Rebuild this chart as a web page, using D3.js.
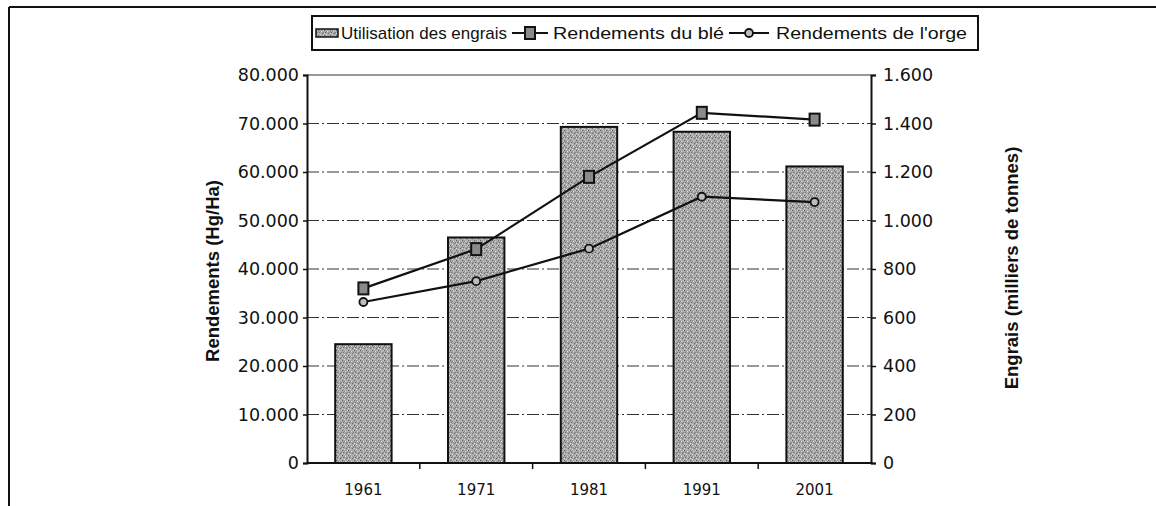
<!DOCTYPE html>
<html><head><meta charset="utf-8">
<script src="https://cdn.jsdelivr.net/npm/d3@7"></script>
<style>body{margin:0;background:#fff}svg{display:block;font-family:"Liberation Sans",Arial,sans-serif}text{fill:#111}</style>
</head><body><svg id="c" width="1156" height="506"></svg>
<script>
const years = ["1961","1971","1981","1991","2001"];
const engrais = [490, 930, 1386, 1366, 1223];
const ble = [36000, 44100, 59000, 72200, 70800];
const orge = [33200, 37500, 44200, 54900, 53800];
const leftTicks = [0,10000,20000,30000,40000,50000,60000,70000,80000];
const rightTicks = [0,200,400,600,800,1000,1200,1400,1600];
const legendLabels = ["Utilisation des engrais","Rendements du blé","Rendements de l'orge"];
const yTitleLeft = "Rendements (Hg/Ha)";
const yTitleRight = "Engrais (milliers de tonnes)";

const svg = d3.select("#c");
const L = 307, R = 871, T = 75, B = 463;
const loc = d3.formatLocale({decimal:",",thousands:".",grouping:[3],currency:["",""]});
const fmt = loc.format(",");
const tickFont = "'DejaVu Sans', Verdana, sans-serif";
const mainFont = "'Liberation Sans', Arial, sans-serif";

// pattern for stippled bars
const defs = svg.append("defs");
const pat = defs.append("pattern").attr("id","stip").attr("patternUnits","userSpaceOnUse").attr("width",6).attr("height",5);
pat.append("rect").attr("width",6).attr("height",5).attr("fill","#a8a8a8");
[[0,0,"#5e5e5e"],[3,1,"#dedede"],[1,2,"#727272"],[4,3,"#6a6a6a"],[2,4,"#d6d6d6"],[5,0,"#cacaca"],[5,2,"#7e7e7e"],[0,3,"#dadada"],[2,1,"#8a8a8a"]].forEach(p=>{
  pat.append("rect").attr("x",p[0]).attr("y",p[1]).attr("width",1).attr("height",1).attr("fill",p[2]);
});

// outer frame
svg.append("line").attr("x1",9).attr("x2",1156).attr("y1",7).attr("y2",7).attr("stroke","#111").attr("stroke-width",2);
svg.append("line").attr("x1",9).attr("x2",9).attr("y1",7).attr("y2",506).attr("stroke","#111").attr("stroke-width",2);

const x = d3.scaleBand().domain(years).range([L,R]).paddingInner(0.5).paddingOuter(0.25);
const xo = d3.scaleBand().domain(years).range([L,R]).padding(0);
const yL = d3.scaleLinear().domain([0,80000]).range([B,T]);
const yR = d3.scaleLinear().domain([0,1600]).range([B,T]);

// gridlines
svg.append("g").selectAll("line").data(leftTicks.filter(d=>d>0)).join("line")
  .attr("x1",L).attr("x2",R).attr("y1",d=>yL(d)).attr("y2",d=>yL(d))
  .attr("stroke","#333").attr("stroke-width",1).attr("stroke-dasharray",d=>d===80000?null:"12,3,2,3");

// bars
svg.append("g").selectAll("rect").data(years).join("rect")
  .attr("x",d=>x(d)).attr("width",x.bandwidth())
  .attr("y",(d,i)=>yR(engrais[i])).attr("height",(d,i)=>B-yR(engrais[i]))
  .attr("fill","url(#stip)").attr("stroke","#111").attr("stroke-width",2);

// axes
const axL = svg.append("g").attr("transform",`translate(${L},0)`)
  .call(d3.axisLeft(yL).tickValues(leftTicks).tickFormat(fmt).tickSize(4).tickPadding(4));
const axR = svg.append("g").attr("transform",`translate(${R},0)`)
  .call(d3.axisRight(yR).tickValues(rightTicks).tickFormat(fmt).tickSize(5).tickPadding(7));
[axL,axR].forEach(a=>{
  a.attr("font-family",null).attr("font-size",null);
  a.select(".domain").attr("stroke","#111").attr("stroke-width",2);
  a.selectAll(".tick line").attr("stroke","#111").attr("stroke-width",1.5);
  a.selectAll(".tick text").style("font-size","17.5px").style("fill","#111").style("font-family",tickFont);
});
// x axis
svg.append("line").attr("x1",L).attr("x2",R).attr("y1",B).attr("y2",B).attr("stroke","#111").attr("stroke-width",2);
svg.append("g").selectAll("line").data(years.slice(1)).join("line")
  .attr("x1",d=>xo(d)).attr("x2",d=>xo(d)).attr("y1",B).attr("y2",B+6).attr("stroke","#111").attr("stroke-width",1.5);
svg.append("g").selectAll("text").data(years).join("text")
  .attr("x",d=>x(d)+x.bandwidth()/2).attr("y",B+32).attr("text-anchor","middle")
  .style("font-family",tickFont).style("font-size","15px").text(d=>d);

// lines
const cx = d=>x(d)+x.bandwidth()/2;
const line = d3.line().x((d,i)=>cx(years[i])).y(d=>yL(d));
svg.append("path").datum(ble).attr("d",line).attr("fill","none").attr("stroke","#111").attr("stroke-width",2.2);
svg.append("path").datum(orge).attr("d",line).attr("fill","none").attr("stroke","#111").attr("stroke-width",2.2);
svg.append("g").selectAll("rect").data(ble).join("rect")
  .attr("x",(d,i)=>cx(years[i])-5).attr("y",d=>yL(d)-6).attr("width",10).attr("height",12)
  .attr("fill","#8a8a8a").attr("stroke","#111").attr("stroke-width",2);
svg.append("g").selectAll("circle").data(orge).join("circle")
  .attr("cx",(d,i)=>cx(years[i])).attr("cy",d=>yL(d)).attr("r",4)
  .attr("fill","#bdbdbd").attr("stroke","#111").attr("stroke-width",1.8);

// titles
svg.append("text").attr("transform","translate(219,271) rotate(-90)").attr("text-anchor","middle")
  .style("font-family",mainFont).style("font-size","18.5px").style("font-weight","bold").text(yTitleLeft);
svg.append("text").attr("transform","translate(1018,268) rotate(-90)").attr("text-anchor","middle")
  .style("font-family",mainFont).style("font-size","18.5px").style("font-weight","bold").text(yTitleRight);

// legend
const lg = svg.append("g").style("font-family",mainFont).style("font-size","17px");
lg.append("rect").attr("x",312).attr("y",16).attr("width",666).attr("height",34).attr("fill","#fff").attr("stroke","#111").attr("stroke-width",2);
const ly = 33;
lg.append("rect").attr("x",316).attr("y",ly-4).attr("width",22).attr("height",8).attr("fill","url(#stip)").attr("stroke","#111").attr("stroke-width",1.5);
lg.append("text").attr("x",341).attr("y",ly+6).attr("textLength",166).attr("lengthAdjust","spacingAndGlyphs").text(legendLabels[0]);
lg.append("line").attr("x1",512).attr("x2",548).attr("y1",ly).attr("y2",ly).attr("stroke","#111").attr("stroke-width",2.2);
lg.append("rect").attr("x",525).attr("y",ly-6).attr("width",10).attr("height",12).attr("fill","#8a8a8a").attr("stroke","#111").attr("stroke-width",2);
lg.append("text").attr("x",553).attr("y",ly+6).attr("textLength",171).attr("lengthAdjust","spacingAndGlyphs").text(legendLabels[1]);
lg.append("line").attr("x1",729).attr("x2",769).attr("y1",ly).attr("y2",ly).attr("stroke","#111").attr("stroke-width",2.2);
lg.append("circle").attr("cx",749).attr("cy",ly).attr("r",4).attr("fill","#bdbdbd").attr("stroke","#111").attr("stroke-width",1.8);
lg.append("text").attr("x",776).attr("y",ly+6).attr("textLength",191).attr("lengthAdjust","spacingAndGlyphs").text(legendLabels[2]);
</script></body></html>
